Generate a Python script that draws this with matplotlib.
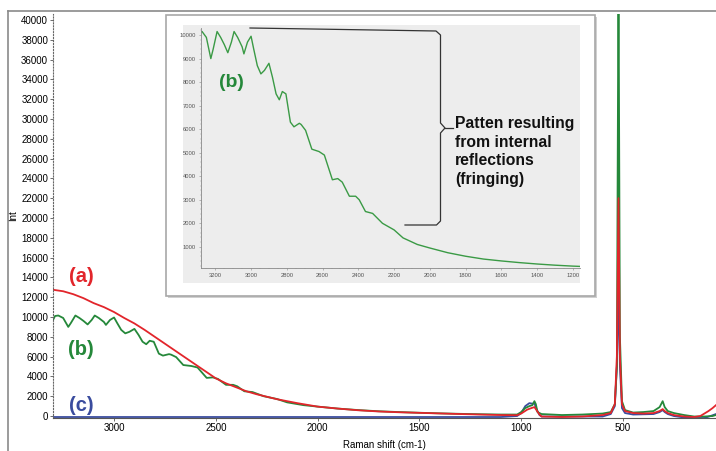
import matplotlib
matplotlib.use("Agg")
import matplotlib.pyplot as plt
from matplotlib.lines import Line2D
from matplotlib.patches import Rectangle

plt.rcParams['font.family'] = ['Liberation Sans', 'DejaVu Sans']

# (a) red spectrum
red_x = [3300, 3250, 3200, 3150, 3100, 3050, 3000, 2950, 2900, 2850, 2800, 2750,
         2700, 2650, 2600, 2550, 2500, 2450, 2400, 2350, 2300, 2250, 2200, 2100,
         2000, 1900, 1800, 1700, 1600, 1500, 1400, 1300, 1200, 1100, 1020, 1000,
         970, 950, 935, 925, 910, 900, 800, 700, 600, 560, 540, 530, 522, 515,
         505, 490, 450, 400, 350, 320, 305, 295, 280, 250, 200, 150, 120, 100,
         80, 60, 43]
red_y = [12750, 12600, 12300, 11900, 11400, 11000, 10500, 9900, 9350, 8700, 8000, 7300,
         6600, 5900, 5200, 4500, 3800, 3300, 2900, 2500, 2200, 1950, 1700, 1300,
         950, 750, 580, 460, 380, 320, 260, 200, 150, 100, 80, 250,
         650, 800, 900, 600, 150, -50, -100, -50, 100, 300, 1200, 6000, 22000, 6000,
         1200, 500, 300, 250, 300, 500, 700, 500, 300, 100, -50, -100, 0, 250,
         500, 800, 1100]

# (b) green spectrum (with fringing)
green_x = [3300, 3290, 3274, 3250, 3225, 3212, 3190, 3170, 3150, 3130, 3110, 3095,
           3075, 3050, 3040, 3020, 3000, 2985, 2965, 2945, 2925, 2900, 2880, 2860,
           2842, 2825, 2805, 2780, 2760, 2730, 2720, 2695, 2660, 2620, 2590, 2545,
           2515, 2490, 2450, 2415, 2395, 2360, 2320, 2265, 2200, 2150, 2070, 2000,
           1900, 1800, 1700, 1600, 1500, 1400, 1300, 1200, 1100, 1020, 1000, 980,
           960, 945, 935, 928, 920, 900, 850, 800, 700, 600, 560, 540, 530, 522,
           515, 505, 490, 450, 400, 350, 320, 305, 295, 280, 250, 200, 150, 100,
           60, 43]
green_y = [9700, 10100, 10150, 9900, 9000, 9400, 10150, 9900, 9600, 9250, 9700, 10150,
           9900, 9500, 9200, 9700, 9950, 9400, 8700, 8350, 8500, 8800, 8200, 7500,
           7250, 7600, 7500, 6300, 6100, 6250, 6200, 5950, 5150, 5050, 4900, 3850,
           3900, 3750, 3150, 3150, 3000, 2500, 2420, 2000, 1720, 1380, 1100, 950,
           750, 600, 480, 400, 330, 270, 220, 180, 150, 150, 400, 800,
           1000, 1100, 1500, 1200, 400, 200, 150, 100, 150, 250, 400, 1200, 5000, 45000,
           8000, 1500, 600, 350, 400, 500, 900, 1500, 900, 500, 300, 100, -50, -50,
           0, 100]

# (c) blue spectrum
blue_x = [3300, 1100, 1020, 1000, 980, 960, 945, 935, 925, 910, 900, 600, 560, 540,
          530, 522, 515, 505, 490, 450, 350, 320, 305, 295, 280, 250, 200, 150, 100,
          70, 43]
blue_y = [-100, -100, 0, 300, 1000, 1300, 1250, 1300, 700, 100, -50, -50, 200, 1000,
          5000, 13000, 5000, 800, 300, 150, 200, 400, 600, 400, 200, 0, -150, -200, -200,
          0, 200]

y_ticks = list(range(0, 40001, 2000))
x_ticks = [3000, 2500, 2000, 1500, 1000, 500]
inset_x_ticks = list(range(3200, 1199, -200))
inset_y_ticks = list(range(1000, 10001, 1000))

RED = '#e2252b'
GREEN = '#25883a'
BLUE = '#3a4c9e'

W, H = 716, 451
fig = plt.figure(figsize=(W / 100, H / 100), dpi=100)


def fx(x):
    return x / W


def fy(y):
    return 1 - y / H


# outer window frame
fig.add_artist(Line2D([fx(8), fx(716)], [fy(11), fy(11)], color='#8a8a8a', lw=1.2))
fig.add_artist(Line2D([fx(8), fx(8)], [fy(11), fy(451)], color='#8a8a8a', lw=1.2))

ax = fig.add_axes([fx(53), fy(418), fx(716 - 53), (418 - 14) / H])
ax.plot(blue_x, blue_y, color=BLUE, lw=1.3)
ax.plot(green_x, green_y, color=GREEN, lw=1.3)
ax.plot(red_x, red_y, color=RED, lw=1.3)
ax.set_xlim(3300, 43)
ax.set_ylim(-200, 40600)
ax.set_yticks(y_ticks)
ax.set_xticks(x_ticks)
ax.tick_params(labelsize=7, length=2, width=0.6, color='#555555', pad=1.5)
ax.spines['top'].set_visible(False)
ax.spines['right'].set_visible(False)
ax.spines['left'].set_linestyle(':')
ax.spines['left'].set_color('#666666')
ax.spines['bottom'].set_color('#555555')
ax.set_xlabel('Raman shift (cm-1)', fontsize=7, labelpad=5)
ax.set_ylabel('Int', fontsize=7, labelpad=2)

ax.text(3162, 14040, '(a)', color=RED, fontsize=14.5, fontweight='bold', ha='center', va='center')
ax.text(3162, 6670, '(b)', color=GREEN, fontsize=14.5, fontweight='bold', ha='center', va='center')
ax.text(3162, 1110, '(c)', color=BLUE, fontsize=14.5, fontweight='bold', ha='center', va='center')

# inset box
fig.add_artist(Rectangle((fx(168), fy(298)), fx(429), 281 / H, facecolor='#d0d0d0',
                         edgecolor='none', zorder=2))
fig.add_artist(Rectangle((fx(166), fy(296)), fx(429), 281 / H, facecolor='white',
                         edgecolor='#a8a8a8', lw=1.2, zorder=2))
fig.add_artist(Rectangle((fx(183), fy(283)), fx(397), 258 / H, facecolor='#ededed',
                         edgecolor='none', zorder=2))

ins = fig.add_axes([fx(201), fy(268), fx(379), 240 / H], zorder=3)
ins.set_facecolor('#ededed')
ins.plot(green_x, green_y, color='#3a9a45', lw=1.0)
ins.set_xlim(3280, 1160)
ins.set_ylim(100, 10300)
ins.set_xticks(inset_x_ticks)
ins.set_yticks(inset_y_ticks)
ins.set_xticklabels([str(v) for v in inset_x_ticks])
ins.tick_params(labelsize=4.2, length=1.5, width=0.4, color='#888888',
                labelcolor='#555555', pad=2)
ins.minorticks_on()
ins.tick_params(which='minor', length=1, width=0.3, color='#999999')
for s in ['top', 'right']:
    ins.spines[s].set_visible(False)
for s in ['left', 'bottom']:
    ins.spines[s].set_color('#888888')
    ins.spines[s].set_linewidth(0.6)
ins.text(3110, 7980, '(b)', color=GREEN, fontsize=14, fontweight='bold', ha='center', va='center')

# bracket and note
bx = [250, 436, 440.5, 440.5, 445, 440.5, 440.5, 436.5, 405]
by = [28, 31, 35, 123, 128, 133, 221, 225, 225]
fig.add_artist(Line2D([fx(v) for v in bx], [fy(v) for v in by], color='#333333',
                      lw=0.9, zorder=4))
fig.add_artist(Line2D([fx(445), fx(453)], [fy(128), fy(128)], color='#333333',
                      lw=0.9, zorder=4))
fig.text(fx(455), fy(116), 'Patten resulting\nfrom internal\nreflections\n(fringing)',
         fontsize=11.3, fontweight='bold', color='#111111', ha='left', va='top',
         linespacing=1.3, zorder=5)

fig.savefig('out.png', dpi=100)
